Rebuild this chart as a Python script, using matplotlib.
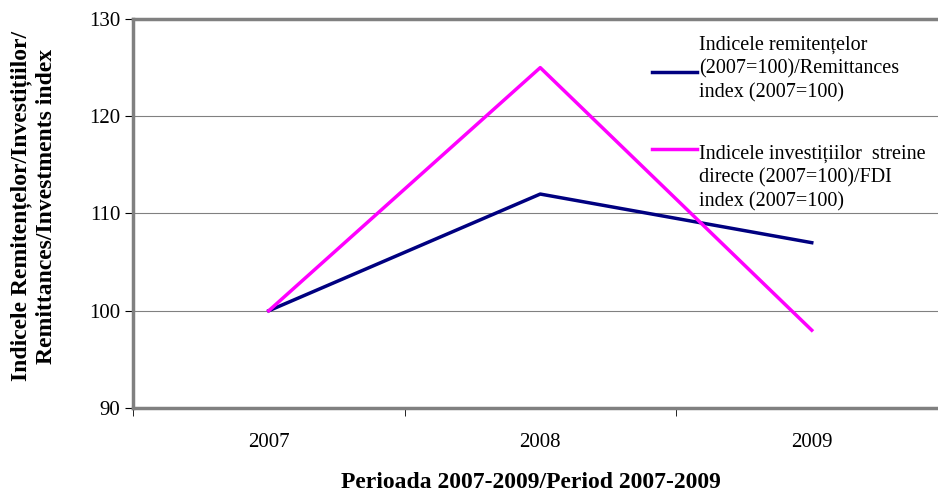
import matplotlib.pyplot as plt
from matplotlib.lines import Line2D

plt.rcParams['font.family'] = ['Liberation Serif', 'DejaVu Serif']

years = ['2007', '2008', '2009']
remittances_index = [100, 112, 107]
fdi_index = [100, 125, 98]

remit_label = 'Indicele remitențelor\n(2007=100)/Remittances\nindex (2007=100)'
fdi_label = 'Indicele investițiilor  streine\ndirecte (2007=100)/FDI\nindex (2007=100)'

fig = plt.figure(figsize=(9.38, 4.95), dpi=100)
ax = fig.add_axes([133 / 938, 87 / 495, 814.5 / 938, 389 / 495])

x = range(len(years))
ax.plot(x, remittances_index, color='#000080', lw=2.5)
ax.plot(x, fdi_index, color='#ff00ff', lw=2.5)

ax.set_xlim(-0.5, 2.5)
ax.set_ylim(90, 130)
ax.set_yticks([90, 100, 110, 120, 130])
ax.set_xticks(list(x))
ax.set_xticklabels(years, fontsize=15)
# category boundaries carry the tick marks
ax.set_xticks([-0.5, 0.5, 1.5, 2.5], minor=True)
ax.tick_params(axis='x', which='major', length=0, pad=18)
ax.tick_params(axis='x', which='minor', length=6, direction='out', color='black')
ax.tick_params(axis='y', length=6, direction='out', labelsize=15, color='black', pad=3)
ax.yaxis.grid(True, color='#808080', lw=0.8)
ax.set_axisbelow(True)

for side in ['top', 'bottom', 'left', 'right']:
    ax.spines[side].set_color('#808080')
    ax.spines[side].set_linewidth(2.5)

# legend drawn by hand: keys sit at different lines of their labels
keys = [('#000080', 72, remit_label, 69), ('#ff00ff', 149, fdi_label, 178)]
for color, key_y, label, text_y in keys:
    fig.add_artist(Line2D([652 / 938, 697 / 938], [1 - key_y / 495] * 2,
                          color=color, lw=2.5))
    fig.text(699 / 938, 1 - text_y / 495, label, ha='left', va='center',
             fontsize=14.5, linespacing=1.35)

fig.text(34 / 938, 1 - 206 / 495,
         'Indicele Remitențelor/Investițiilor/\nRemittances/Investments index',
         rotation=90, ha='center', va='center', fontsize=17, fontweight='bold',
         multialignment='center', linespacing=1.25)
fig.text(531 / 938, 1 - 488 / 495, 'Perioada 2007-2009/Period 2007-2009',
         ha='center', va='baseline', fontsize=17, fontweight='bold')

fig.savefig('out.png', dpi=100)
